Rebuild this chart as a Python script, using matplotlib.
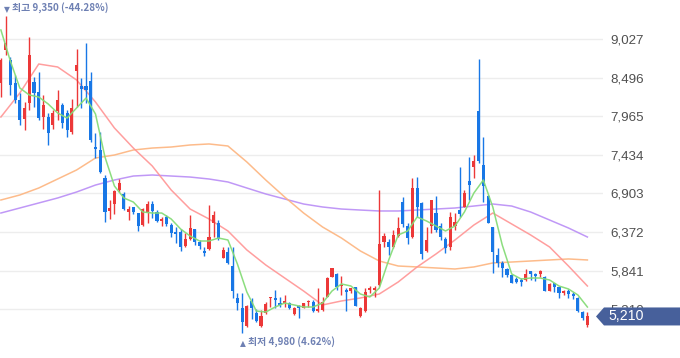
import matplotlib
matplotlib.use('Agg')
import matplotlib.pyplot as plt
import matplotlib.transforms as mtransforms
from matplotlib.patches import Polygon
from matplotlib import font_manager
import numpy as np

plt.rcParams['font.family'] = ['Noto Sans CJK KR', 'DejaVu Sans']

# ---------------- data (daily OHLC, 125 sessions) ----------------
opens = [8420, 8880, 8740, 8420, 8190, 7930, 8150, 8440, 8300, 7950,
         7950, 7840, 8040, 8120, 8010, 7750, 8590, 8380, 8380, 8450,
         7540, 7500, 7110, 6660, 6760, 6950, 6900, 6650, 6720, 6630,
         6470, 6630, 6760, 6650, 6520, 6580, 6470, 6370, 6370, 6180,
         6280, 6410, 6230, 6110, 6140, 6500, 6500, 6010, 6100, 5900,
         5460, 5330, 5080, 5420, 5260, 5080, 5260, 5460, 5460, 5400,
         5400, 5400, 5240, 5350, 5330, 5410, 5410, 5290, 5300, 5480,
         5750, 5790, 5630, 5570, 5560, 5620, 5220, 5290, 5570, 5570,
         5640, 6230, 6230, 6170, 6320, 6780, 6450, 6300, 6980, 6770,
         6110, 6450, 6630, 6450, 6280, 6170, 6450, 6670, 6720, 7070,
         7270, 8040, 7290, 6870, 6440, 6060, 5950, 5860, 5780, 5730,
         5710, 5710, 5840, 5790, 5790, 5750, 5560, 5670, 5620, 5530,
         5560, 5520, 5460, 5270, 5090]
highs = [8770, 9350, 8780, 8530, 8280, 8160, 9050, 8500, 8570, 8260,
         8010, 8050, 8330, 8150, 8050, 8200, 8890, 8490, 8970, 8570,
         7730, 7750, 7160, 6810, 6950, 7100, 6920, 6730, 6720, 6630,
         6700, 6800, 6800, 6670, 6580, 6610, 6500, 6440, 6410, 6360,
         6610, 6410, 6260, 6170, 6740, 6660, 6540, 6170, 6170, 6170,
         5530, 5530, 5370, 5460, 5310, 5300, 5410, 5480, 5570, 5480,
         5510, 5410, 5340, 5370, 5400, 5440, 5440, 5600, 5480, 5750,
         5880, 5810, 5770, 5600, 5600, 5620, 5340, 5600, 5630, 5630,
         6950, 6360, 6280, 6400, 6580, 6850, 6500, 7110, 7130, 6780,
         6440, 6810, 6870, 6500, 6300, 6650, 6630, 7270, 6950, 7400,
         7430, 8750, 7680, 6880, 6440, 6150, 5970, 5880, 5790, 5750,
         5740, 5860, 5840, 5810, 5850, 5770, 5670, 5670, 5620, 5570,
         5590, 5550, 5480, 5290, 5270]
lows = [8230, 8810, 8260, 8150, 7840, 7780, 8050, 8090, 7910, 7790,
        7570, 7790, 7910, 7800, 7680, 7720, 8090, 8080, 8150, 7610,
        7390, 7180, 6510, 6550, 6620, 6920, 6670, 6540, 6620, 6390,
        6450, 6500, 6560, 6510, 6450, 6450, 6300, 6220, 6110, 6170,
        6260, 6190, 6140, 6040, 6120, 6300, 6260, 6010, 5930, 5460,
        5300, 4980, 5070, 5180, 5130, 5070, 5240, 5340, 5330, 5340,
        5340, 5310, 5230, 5190, 5330, 5340, 5270, 5270, 5290, 5480,
        5750, 5570, 5510, 5290, 5530, 5350, 5200, 5270, 5530, 5480,
        5630, 6170, 6060, 6150, 6300, 6440, 6210, 6290, 6580, 6000,
        6100, 6360, 6370, 6260, 6080, 6120, 6400, 6580, 6720, 6810,
        7110, 7320, 6780, 6500, 5810, 5890, 5750, 5750, 5670, 5670,
        5630, 5700, 5710, 5700, 5750, 5560, 5560, 5550, 5460, 5510,
        5460, 5450, 5270, 5160, 5070]
closes = [8740, 8970, 8390, 8190, 7910, 8080, 8810, 8280, 7940, 8120,
          7730, 8010, 8190, 7870, 7780, 8080, 8670, 8340, 8320, 7640,
          7510, 7200, 6650, 6700, 6940, 7050, 6690, 6690, 6650, 6450,
          6690, 6760, 6660, 6520, 6550, 6480, 6360, 6340, 6170, 6280,
          6430, 6230, 6180, 6080, 6300, 6610, 6280, 6120, 5950, 5560,
          5400, 5130, 5350, 5330, 5150, 5220, 5380, 5480, 5440, 5370,
          5420, 5330, 5330, 5330, 5400, 5420, 5290, 5310, 5410, 5740,
          5880, 5620, 5640, 5550, 5600, 5350, 5330, 5550, 5600, 5600,
          6210, 6320, 6170, 6330, 6430, 6480, 6290, 6980, 6720, 6070,
          6260, 6810, 6400, 6300, 6150, 6580, 6510, 6620, 6910, 7020,
          7350, 7350, 7000, 6500, 6100, 5950, 5880, 5780, 5670, 5680,
          5680, 5790, 5790, 5770, 5840, 5560, 5660, 5620, 5530, 5560,
          5520, 5490, 5290, 5190, 5210]

# moving averages (ma5 every 2nd session, others every 4th)
ma5 = [9151, 8724, 8353, 8257, 8229, 8133, 8009, 7940, 8078, 8215,
       7995, 7404, 7005, 6840, 6784, 6647, 6633, 6633, 6551, 6413,
       6317, 6248, 6248, 6289, 6262, 5932, 5546, 5285, 5271, 5340,
       5395, 5368, 5340, 5340, 5395, 5560, 5657, 5629, 5519, 5478,
       5601, 5987, 6331, 6386, 6578, 6523, 6454, 6386, 6454, 6647,
       6908, 7087, 6716, 6193, 5794, 5725, 5739, 5739, 5712, 5629,
       5588, 5505, 5340]
ma20 = [7954, 8284, 8683, 8642, 8463, 8160, 7803, 7527, 7280, 6950,
        6688, 6551, 6386, 6125, 5918, 5739, 5560, 5368, 5423, 5464,
        5519, 5684, 5891, 6070, 6262, 6468, 6633, 6482, 6331, 6166,
        5904, 5629]
ma60 = [6812, 6881, 6977, 7101, 7225, 7390, 7431, 7500, 7527, 7541,
        7569, 7583, 7555, 7335, 7087, 6853, 6633, 6441, 6289, 6111,
        5973, 5904, 5891, 5877, 5863, 5891, 5946, 5959, 5973, 5987,
        6001, 5987]
ma120 = [6633, 6702, 6771, 6840, 6922, 7018, 7087, 7142, 7156, 7142,
         7128, 7101, 7060, 6977, 6895, 6826, 6757, 6716, 6688, 6674,
         6661, 6661, 6674, 6688, 6702, 6729, 6757, 6729, 6647, 6537,
         6427, 6303]

ytick_values = [9027, 8496, 7965, 7434, 6903, 6372, 5841, 5310]
high_text = "최고 9,350 (-44.28%)"
low_text = "최저 4,980 (4.62%)"
last_price = 5210

# narrow font for the numeric labels if it is installed
_names = {f.name for f in font_manager.fontManager.ttflist}
NUM_FONT = ['Liberation Sans Narrow'] if 'Liberation Sans Narrow' in _names else ['Liberation Sans']
NUM_FONT = NUM_FONT + ['DejaVu Sans']

# ---------------- drawing ----------------
W, H = 680, 358
fig = plt.figure(figsize=(W / 100, H / 100), dpi=100)
fig.patch.set_facecolor('white')
ax = fig.add_axes([0, 0, 603 / W, 1])
ax.set_facecolor('white')

n = len(closes)
x = np.arange(n)
o = np.array(opens); c = np.array(closes)
hi = np.array(highs); lo = np.array(lows)
up = c >= o
RED = '#ec3838'
BLUE = '#1877e6'
cols = np.where(up, RED, BLUE)

ax.set_ylim(4638.5, 9563.5)
ax.set_xlim(-0.19, 127.3)

ax.set_yticks(ytick_values)
ax.set_yticklabels([f"{v:,}" for v in ytick_values])
ax.yaxis.tick_right()
ax.tick_params(axis='y', length=0, pad=5, labelsize=9.6, labelcolor='#505050')
for lab in ax.get_yticklabels():
    lab.set_family(NUM_FONT)
ax.set_xticks([])
ax.grid(axis='y', color='#ededed', linewidth=1.0, zorder=0)
for s in ax.spines.values():
    s.set_visible(False)

# MAs
ax.plot(np.arange(0, n, 4), ma120, color='#b98df6', lw=1.1, alpha=0.9, zorder=2)
ax.plot(np.arange(0, n, 4), ma60, color='#fdb47e', lw=1.1, alpha=0.9, zorder=2)
ax.plot(np.arange(0, n, 4), ma20, color='#ff9494', lw=1.1, alpha=0.9, zorder=2)

# candles
ax.vlines(x, lo, hi, colors=cols, linewidth=1.0, zorder=3)
body_h = np.maximum(np.abs(c - o), 14)
ax.bar(x, body_h, bottom=np.minimum(o, c), width=0.66, color=cols,
       linewidth=0, zorder=3)

ax.plot(np.arange(0, n, 2), ma5, color='#86dc78', lw=1.1, alpha=0.95, zorder=4)

# price tag for the last close
tr = mtransforms.blended_transform_factory(fig.transFigure, ax.transData)
hh = 9 * 13.757
tag = Polygon([(596 / W, last_price), (604 / W, last_price + hh), (680 / W, last_price + hh),
               (680 / W, last_price - hh), (604 / W, last_price - hh)],
              closed=True, transform=tr, facecolor='#47609b', edgecolor='none',
              zorder=10, clip_on=False)
fig.patches.append(tag)
fig.text(608 / W, last_price, f"{last_price:,}", transform=tr, color='white',
         fontsize=10.2, va='center', ha='left', zorder=11, family=NUM_FONT)

# high / low annotations
LBL = '#6e80b3'
fig.text(4 / W, 1 - 9.5 / H, "▼", color=LBL, fontsize=5.5, va='center', ha='left',
         family='DejaVu Sans')
fig.text(12.5 / W, 1 - 9 / H, high_text, color=LBL, fontsize=7.1, va='center', ha='left',
         weight='bold')
fig.text(240 / W, 1 - 343.5 / H, "▲", color=LBL, fontsize=5.5, va='center', ha='left',
         family='DejaVu Sans')
fig.text(248 / W, 1 - 343 / H, low_text, color=LBL, fontsize=7.1, va='center', ha='left',
         weight='bold')

fig.savefig('out.png', dpi=100, facecolor='white')
